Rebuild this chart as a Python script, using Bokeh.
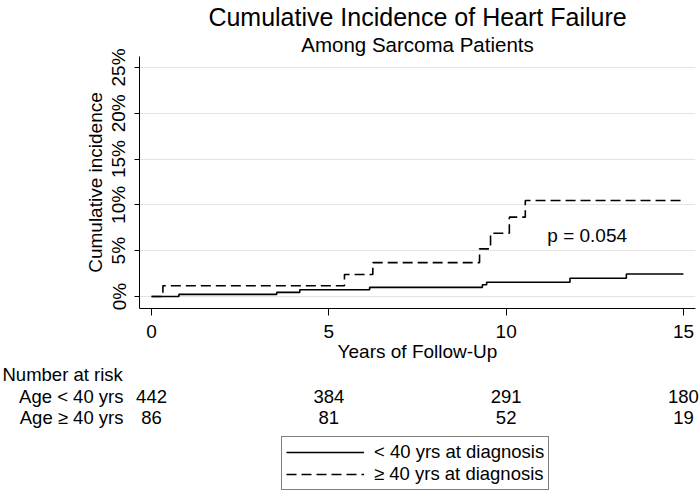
from bokeh.plotting import figure
from bokeh.models import (Range1d, FixedTicker, PrintfTickFormatter, Title, Label,
                          Legend, LegendItem)
from bokeh.layouts import column
from bokeh.embed import file_html
from bokeh.resources import INLINE
from bokeh.core.properties import value

# ---------------- data ----------------
lt40_years = [0, 0.77, 3.53, 4.18, 6.15, 9.33, 9.45, 11.8, 13.39, 15.0]
lt40_ci = [0, 0.23, 0.45, 0.73, 1.0, 1.28, 1.56, 2.0, 2.45, 2.45]

ge40_years = [0, 0.32, 5.44, 6.24, 9.25, 9.56, 10.09, 10.54, 15.0]
ge40_ci = [0, 1.17, 2.4, 3.7, 5.2, 6.9, 8.66, 10.48, 10.48]

x_ticks = [0, 5, 10, 15]
y_ticks = [0, 5, 10, 15, 20, 25]

risk_years = [0, 5, 10, 15]
risk_lt40 = [442, 384, 291, 180]
risk_ge40 = [86, 81, 52, 19]
risk_row_labels = ["Age < 40 yrs", "Age \u2265 40 yrs"]
risk_header = "Number at risk"

series_labels = ["< 40 yrs at diagnosis", "\u2265 40 yrs at diagnosis"]
p_value_text = "p = 0.054"
p_value_pos = (11.16, 6.66)

title_text = "Cumulative Incidence of Heart Failure"
subtitle_text = "Among Sarcoma Patients"
x_label = "Years of Follow-Up"
y_label = "Cumulative incidence"

# ---------------- layout constants ----------------
FONT = "Liberation Sans"
FS = "19px"
FS_TAB = "18.5px"
W = 700
HA = 364
HB = 134
LEFT = 139
RIGHT = 5
X0, X1 = -0.34, 15.34
Y0, Y1 = -1.31, 26.2

# ---------------- main plot ----------------
p = figure(width=W, height=HA, x_range=Range1d(X0, X1), y_range=Range1d(Y0, Y1),
           output_backend="svg", toolbar_location=None, title=None,
           min_border_left=LEFT, min_border_right=RIGHT,
           min_border_top=56, min_border_bottom=56)
p.frame_align = False
p.outline_line_color = None
p.background_fill_color = "white"
p.border_fill_color = "white"

p.add_layout(Title(text=subtitle_text, align="center", text_font_size="20.5px",
                   text_font=FONT, text_font_style="normal", text_color="black",
                   standoff=1), "above")
p.add_layout(Title(text=title_text, align="center", text_font_size="25px",
                   text_font=FONT, text_font_style="normal", text_color="black",
                   standoff=0), "above")

p.xgrid.visible = False
p.ygrid.ticker = FixedTicker(ticks=y_ticks)
p.ygrid.grid_line_color = "#e4e4e4"
p.ygrid.grid_line_width = 1

for ax in (p.xaxis[0], p.yaxis[0]):
    ax.axis_line_color = "black"
    ax.axis_line_width = 1
    ax.major_tick_line_color = "black"
    ax.minor_tick_line_color = None
    ax.major_tick_in = 0
    ax.major_label_text_font = FONT
    ax.major_label_text_font_size = FS
    ax.major_label_text_color = "black"
    ax.axis_label_text_font = FONT
    ax.axis_label_text_font_size = FS
    ax.axis_label_text_font_style = "normal"
    ax.axis_label_text_color = "black"

p.xaxis.ticker = FixedTicker(ticks=x_ticks)
p.xaxis.major_tick_out = 7
p.xaxis.major_label_standoff = 9
p.xaxis.axis_label = x_label
p.xaxis.axis_label_standoff = 0

p.yaxis.ticker = FixedTicker(ticks=y_ticks)
p.yaxis.formatter = PrintfTickFormatter(format="%d%%")
p.yaxis.major_tick_out = 5
p.yaxis.major_label_orientation = "vertical"
p.yaxis.major_label_standoff = 5
p.yaxis.axis_label = y_label
p.yaxis.axis_label_standoff = 0

p.step(x=lt40_years, y=lt40_ci, mode="after", line_color="black", line_width=1.6)
p.step(x=ge40_years, y=ge40_ci, mode="after", line_color="black", line_width=1.6,
       line_dash="10 5")

p.add_layout(Label(x=p_value_pos[0], y=p_value_pos[1], text=p_value_text,
                   text_font=FONT, text_font_size=FS, text_baseline="middle",
                   text_color="black"))

# ---------------- number at risk + legend ----------------
scale = (W - LEFT - RIGHT) / (X1 - X0)
BX0 = X0 - LEFT / scale
BX1 = BX0 + W / scale

q = figure(width=W, height=HB, x_range=Range1d(BX0, BX1), y_range=Range1d(HB, 0),
           output_backend="svg", toolbar_location=None, min_border=0,
           x_axis_type=None, y_axis_type=None)
q.frame_align = False
q.outline_line_color = None
q.grid.visible = False
q.background_fill_color = "white"
q.border_fill_color = "white"

ROW_Y = [32, 53]
q.text(x=[BX0 + 2 / scale], y=[10], text=[risk_header], text_align="left",
       text_baseline="middle", text_font=value(FONT), text_font_size=FS_TAB,
       text_color="black")
q.text(x=[BX0 + 123 / scale] * 2, y=ROW_Y, text=risk_row_labels, text_align="right",
       text_baseline="middle", text_font=value(FONT), text_font_size=FS_TAB,
       text_color="black")
q.text(x=risk_years, y=[ROW_Y[0]] * len(risk_years), text=[str(v) for v in risk_lt40],
       text_align="center", text_baseline="middle", text_font=value(FONT),
       text_font_size=FS_TAB, text_color="black")
q.text(x=risk_years, y=[ROW_Y[1]] * len(risk_years), text=[str(v) for v in risk_ge40],
       text_align="center", text_baseline="middle", text_font=value(FONT),
       text_font_size=FS_TAB, text_color="black")

# legend-only renderers (kept outside the visible range)
r1 = q.line(x=[BX0 - 2, BX0 - 1], y=[-50, -50], line_color="black", line_width=1.6)
r2 = q.line(x=[BX0 - 2, BX0 - 1], y=[-50, -50], line_color="black", line_width=1.6,
            line_dash="10 5")
legend = Legend(items=[LegendItem(label=series_labels[0], renderers=[r1]),
                       LegendItem(label=series_labels[1], renderers=[r2])],
                location=(281, 8), orientation="vertical",
                border_line_color="black", border_line_width=1,
                background_fill_color="white", background_fill_alpha=1,
                padding=4, spacing=0, margin=0,
                label_text_font=FONT, label_text_font_size=FS_TAB,
                label_text_color="black",
                glyph_width=78, glyph_height=20, label_height=20, label_standoff=10)
q.add_layout(legend)

layout = column(p, q, spacing=0)
open("out.html", "w").write(file_html(layout, INLINE))
